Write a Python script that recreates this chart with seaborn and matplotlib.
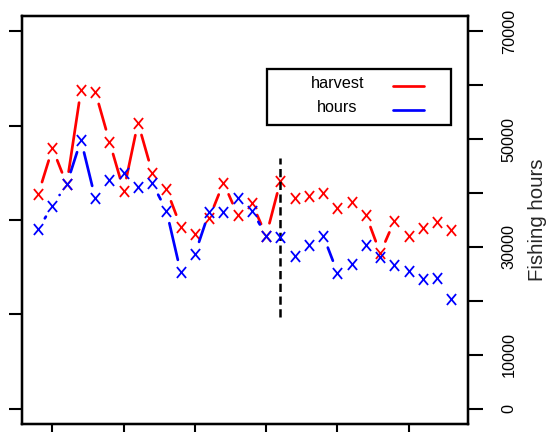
import numpy as np
import pandas as pd
import matplotlib
matplotlib.use("Agg")
import matplotlib.pyplot as plt
from matplotlib.path import Path
from matplotlib.patches import Rectangle
import seaborn as sns

# ---- data -------------------------------------------------------------
years = list(range(1979, 2009))
harvest = [2272, 2760, 2378, 3378, 3361, 2830, 2311, 3032, 2502, 2325,
           1929, 1848, 2018, 2396, 2053, 2177, 1834, 2414, 2230, 2254,
           2290, 2124, 2194, 2053, 1647, 1993, 1830, 1919, 1982, 1894]
hours = [33270, 37660, 41620, 49840, 39020, 42420, 43660, 41190, 41800, 36730,
         25290, 28690, 36550, 36550, 39020, 36730, 32100, 31910, 28320, 30360,
         32100, 25230, 26780, 30360, 28200, 26650, 25600, 24060, 24180, 20280]
series_names = ["harvest", "hours"]
series_colors = ["red", "blue"]

hours_ticks = [0, 10000, 20000, 30000, 40000, 50000, 60000, 70000]
hours_tick_labels = ["0", "10000", "", "30000", "", "50000", "", "70000"]
harvest_ticks = [0, 1000, 2000, 3000, 4000]
year_ticks = [1980, 1985, 1990, 1995, 2000, 2005]
break_year = 1996
break_span = [17000, 46500]

# ---- style ------------------------------------------------------------
sns.set_style("ticks")
plt.rcParams["font.family"] = ["Liberation Sans", "DejaVu Sans"]

W, H = 548, 432
fig = plt.figure(figsize=(W / 100, H / 100), dpi=100)
fig.patch.set_facecolor("white")

x0, x1, y_top, y_bot = 21.7, 468.0, 15.7, 424.0
ax_h = fig.add_axes([x0 / W, (H - y_bot) / H, (x1 - x0) / W, (y_bot - y_top) / H])
ax_f = ax_h.twinx()

ax_h.set_xlim(years[0] - 1.16, years[-1] + 1.16)
ax_f.set_ylim(-2838, 72893)
ax_h.set_ylim(-2838 / 17.5, 72893 / 17.5)

LW = 1.65
DATA_LW = 1.95


def gapped_segments(ax, xs, ys, gap_px=12.8):
    """Connecting segments that stop short of each point (R type='b')."""
    pts = ax.transData.transform(np.column_stack([xs, ys]))
    inv = ax.transData.inverted()
    rows = []
    for i in range(len(pts) - 1):
        p, q = pts[i], pts[i + 1]
        d = np.hypot(*(q - p))
        if d <= 2 * gap_px:
            continue
        u = (q - p) / d
        a = inv.transform(p + u * gap_px)
        b = inv.transform(q - u * gap_px)
        rows.append((a[0], a[1], i))
        rows.append((b[0], b[1], i))
    return pd.DataFrame(rows, columns=["year", "value", "seg"])


x_marker = Path([(-0.42, -0.5), (0.42, 0.5), (-0.42, 0.5), (0.42, -0.5)],
                [Path.MOVETO, Path.LINETO, Path.MOVETO, Path.LINETO])

for ax, vals, col in [(ax_h, harvest, series_colors[0]), (ax_f, hours, series_colors[1])]:
    segs = gapped_segments(ax, years, vals)
    sns.lineplot(data=segs, x="year", y="value", units="seg", estimator=None,
                 sort=False, color=col, lw=DATA_LW, ax=ax, legend=False)
    sns.scatterplot(x=years, y=vals, ax=ax, marker=x_marker, s=62,
                    color=col, edgecolor=col, linewidth=1.3, zorder=3, legend=False)

# vertical break marker
ax_f.vlines(break_year, break_span[0], break_span[1], colors="black",
            lw=1.8, linestyles=(0, (3.3, 1.8)))

# ---- axes -------------------------------------------------------------
ax_h.set_xlabel("")
ax_h.set_ylabel("")
ax_h.set_xticks(year_ticks)
ax_h.set_yticks(harvest_ticks)
ax_h.tick_params(axis="both", direction="out", width=1.5, colors="black",
                 labelleft=False, labelbottom=False)
ax_h.tick_params(axis="y", length=9.6)
ax_h.tick_params(axis="x", length=10.8)

ax_f.set_yticks(hours_ticks)
ax_f.set_yticklabels(hours_tick_labels)
ax_f.tick_params(axis="y", direction="out", length=10.8, width=1.5,
                 labelsize=11.7, labelrotation=90, pad=13.5, colors="black")
plt.setp(ax_f.get_yticklabels(), va="center")
ax_f.set_ylabel("Fishing hours", fontsize=14.7)
ax_f.yaxis.set_label_coords(1.1338, 0.5)

for ax in (ax_h, ax_f):
    for sp in ax.spines.values():
        sp.set_linewidth(LW)
        sp.set_color("black")

# ---- legend box -------------------------------------------------------
def ax_xy(px, py):
    return (px - x0) / (x1 - x0), (y_bot - py) / (y_bot - y_top)

bx0, by0 = ax_xy(266.7, 125.3)
bx1, by1 = ax_xy(450.7, 69.0)
ax_f.add_patch(Rectangle((bx0, by0), bx1 - bx0, by1 - by0, transform=ax_f.transAxes,
                         fill=True, facecolor="white", edgecolor="black",
                         lw=LW, zorder=5, clip_on=False))
for name, col, ty, ly in [(series_names[0], series_colors[0], 87.5, 85.7),
                          (series_names[1], series_colors[1], 112.0, 109.7)]:
    tx, tyy = ax_xy(337.4, ty)
    ax_f.text(tx, tyy, name, transform=ax_f.transAxes, ha="center", va="baseline",
              fontsize=11.7, color="black", zorder=6)
    lx0, lyy = ax_xy(393, ly)
    lx1, _ = ax_xy(424, ly)
    ax_f.plot([lx0, lx1], [lyy, lyy], transform=ax_f.transAxes, color=col,
              lw=DATA_LW, zorder=6, clip_on=False)

fig.savefig("out.png", dpi=100)
